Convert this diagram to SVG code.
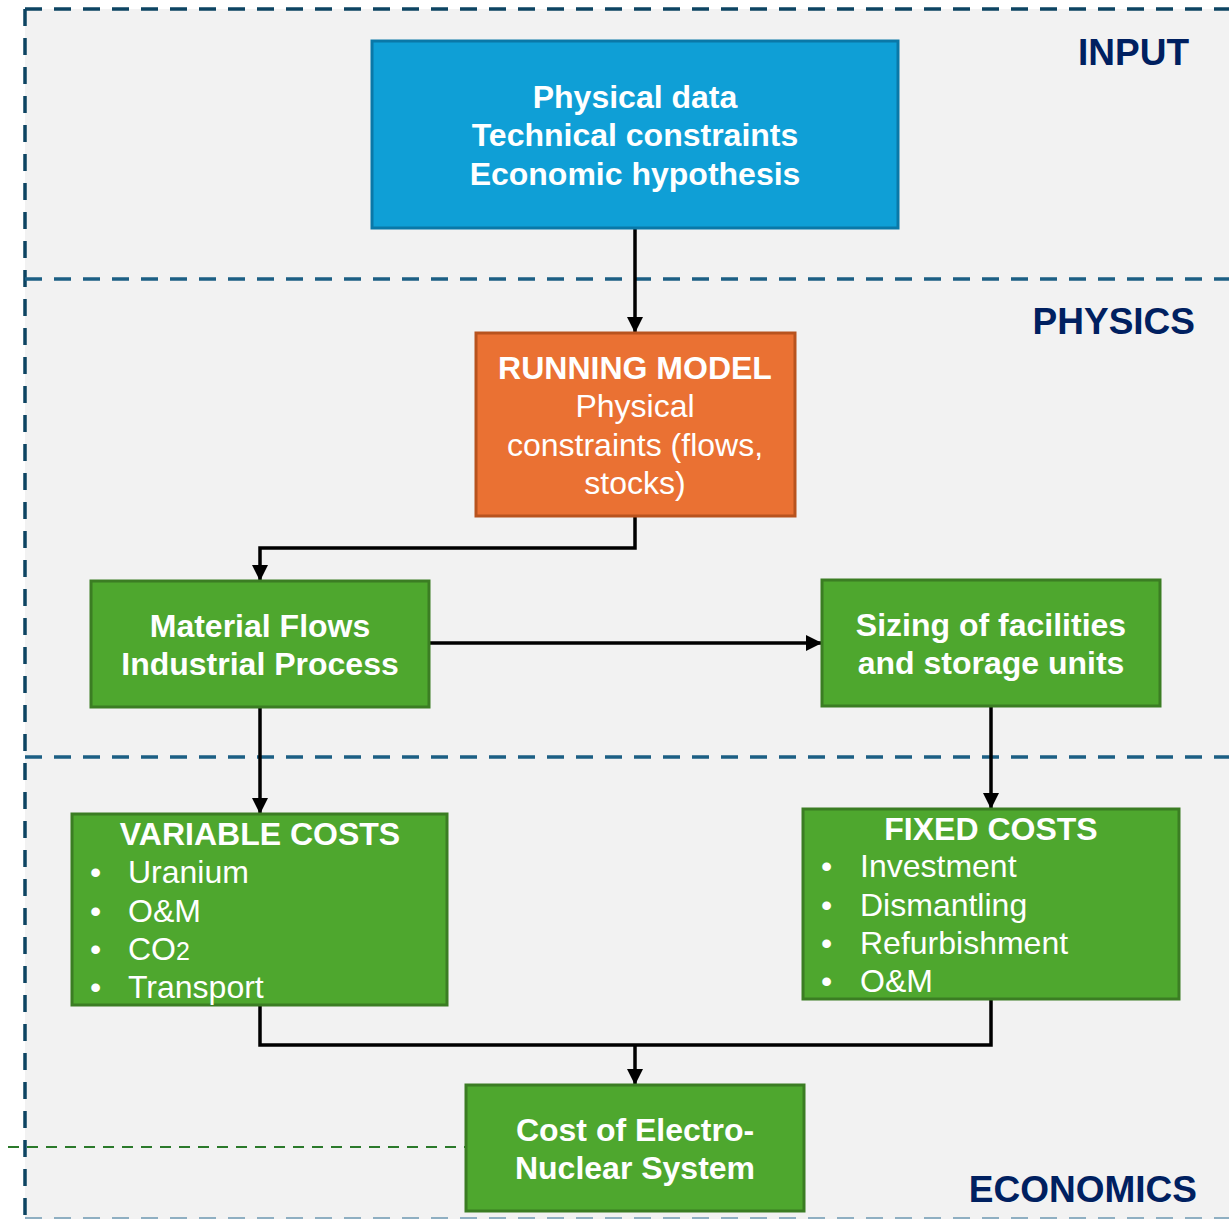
<svg xmlns="http://www.w3.org/2000/svg" width="1229" height="1219" viewBox="0 0 1229 1219">
<defs>
<style>
.t{font-family:"Liberation Sans",Arial,sans-serif;font-size:32px;fill:#ffffff}
.b{font-weight:bold}
.c{text-anchor:middle}
.lbl{font-family:"Liberation Sans",Arial,sans-serif;font-size:37px;font-weight:bold;fill:#002060;text-anchor:end}
.g{fill:#4EA72E;stroke:#3B7D23;stroke-width:3}
.con{fill:none;stroke:#000;stroke-width:3.5}
.dz{fill:none;stroke:#1C5F84;stroke-width:3.5;stroke-dasharray:17 12}
</style>
<marker id="ah" viewBox="0 0 16 16" refX="16" refY="8" markerWidth="16" markerHeight="16" markerUnits="userSpaceOnUse" orient="auto">
<path d="M0,0 L16,8 L0,16 Z" fill="#000"/>
</marker>
</defs>
<g id="zones">
<rect x="25" y="9" width="1204" height="1210" fill="#F2F2F2"/>
<line x1="25" y1="9" x2="1229" y2="9" class="dz" style="stroke:#0D4462"/>
<line x1="25" y1="9" x2="25" y2="1219" class="dz" style="stroke:#0D4462"/>
<line x1="25" y1="279" x2="1229" y2="279" class="dz"/>
<line x1="25" y1="757" x2="1229" y2="757" class="dz"/>
<line x1="25" y1="1218" x2="1229" y2="1218" class="dz" style="stroke:#8FAFC2;stroke-width:2"/>
<line x1="8" y1="1147" x2="466" y2="1147" style="stroke:#2B7A2B;stroke-width:2;stroke-dasharray:11 8"/>
<text class="lbl" x="1189" y="65">INPUT</text>
<text class="lbl" x="1195" y="334">PHYSICS</text>
<text class="lbl" x="1197" y="1202">ECONOMICS</text>
</g>
<g id="connectors">
<path class="con" d="M635,228 V333" marker-end="url(#ah)"/>
<path class="con" d="M635,516 V548 H260 V581" marker-end="url(#ah)"/>
<path class="con" d="M429,643 H822" marker-end="url(#ah)"/>
<path class="con" d="M260,707 V814" marker-end="url(#ah)"/>
<path class="con" d="M991,706 V809" marker-end="url(#ah)"/>
<path class="con" d="M260,1005 V1045 H991 V999"/>
<path class="con" d="M635,1045 V1085" marker-end="url(#ah)"/>
</g>
<g id="input">
<rect x="372" y="41" width="526" height="187" fill="#0F9FD6" stroke="#0A78A8" stroke-width="3"/>
<text class="t b c" x="635" y="108">Physical data</text>
<text class="t b c" x="635" y="146">Technical constraints</text>
<text class="t b c" x="635" y="185">Economic hypothesis</text>
</g>
<g id="running-model">
<rect x="476" y="333" width="319" height="183" fill="#EA7133" stroke="#B8531E" stroke-width="3"/>
<text class="t b c" x="635" y="379">RUNNING MODEL</text>
<text class="t c" x="635" y="417">Physical</text>
<text class="t c" x="635" y="456">constraints (flows,</text>
<text class="t c" x="635" y="494">stocks)</text>
</g>
<g id="material-flows">
<rect x="91" y="581" width="338" height="126" class="g"/>
<text class="t b c" x="260" y="637">Material Flows</text>
<text class="t b c" x="260" y="675">Industrial Process</text>
</g>
<g id="sizing">
<rect x="822" y="580" width="338" height="126" class="g"/>
<text class="t b c" x="991" y="636">Sizing of facilities</text>
<text class="t b c" x="991" y="674">and storage units</text>
</g>
<g id="variable-costs">
<rect x="72" y="814" width="375" height="191" class="g"/>
<text class="t b c" x="260" y="845">VARIABLE COSTS</text>
<text class="t" x="90" y="883">•</text><text class="t" x="128" y="883">Uranium</text>
<text class="t" x="90" y="922">•</text><text class="t" x="128" y="922">O&amp;M</text>
<text class="t" x="90" y="960">•</text><text class="t" x="128" y="960">CO<tspan font-size="25">2</tspan></text>
<text class="t" x="90" y="998">•</text><text class="t" x="128" y="998">Transport</text>
</g>
<g id="fixed-costs">
<rect x="803" y="809" width="376" height="190" class="g"/>
<text class="t b c" x="991" y="840">FIXED COSTS</text>
<text class="t" x="821" y="877">•</text><text class="t" x="860" y="877">Investment</text>
<text class="t" x="821" y="916">•</text><text class="t" x="860" y="916">Dismantling</text>
<text class="t" x="821" y="954">•</text><text class="t" x="860" y="954">Refurbishment</text>
<text class="t" x="821" y="992">•</text><text class="t" x="860" y="992">O&amp;M</text>
</g>
<g id="total-cost">
<rect x="466" y="1085" width="338" height="126" class="g"/>
<text class="t b c" x="635" y="1141">Cost of Electro-</text>
<text class="t b c" x="635" y="1179">Nuclear System</text>
</g>
</svg>
